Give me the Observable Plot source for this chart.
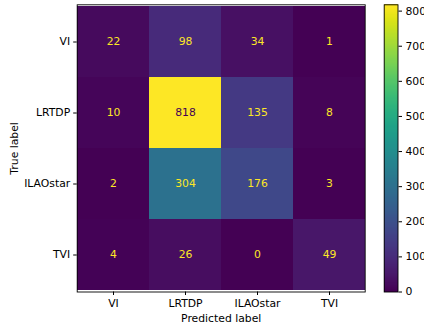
<!DOCTYPE html>
<html>
<head>
<meta charset="utf-8">
<script src="https://cdn.jsdelivr.net/npm/d3@7"></script>
<script src="https://cdn.jsdelivr.net/npm/@observablehq/plot@0.6"></script>
<style>
  html, body { margin: 0; padding: 0; background: #fff; }
  #wrap { position: relative; width: 424px; height: 326px; overflow: hidden; }
  #wrap > svg, #wrap > figure { position: absolute; left: 0; top: 0; margin: 0; }
</style>
</head>
<body>
<div id="wrap"></div>
<script>
const predictedLabels = ["VI", "LRTDP", "ILAOstar", "TVI"];
const trueLabels = ["VI", "LRTDP", "ILAOstar", "TVI"];
const rowVI = [22, 98, 34, 1];
const rowLRTDP = [10, 818, 135, 8];
const rowILAOstar = [2, 304, 176, 3];
const rowTVI = [4, 26, 0, 49];
const colorbarTicks = [0, 100, 200, 300, 400, 500, 600, 700, 800];

const rows = [rowVI, rowLRTDP, rowILAOstar, rowTVI];
const cells = [];
rows.forEach((r, i) => r.forEach((v, j) => cells.push({t: trueLabels[i], p: predictedLabels[j], v})));
const vmax = d3.max(cells, d => d.v);
const vmin = d3.min(cells, d => d.v);

const FS = 10.8;
const font = {fontFamily: "DejaVu Sans, sans-serif", fontSize: FS + "px", color: "#000", background: "transparent", overflow: "visible"};

const main = Plot.plot({
  width: 424, height: 326,
  marginLeft: 76.7, marginRight: 59.3, marginTop: 4.3, marginBottom: 34.5,
  style: font,
  x: {type: "band", domain: predictedLabels, padding: 0},
  y: {type: "band", domain: trueLabels, padding: 0},
  color: {type: "linear", scheme: "viridis", domain: [vmin, vmax]},
  marks: [
    Plot.cell(cells, {x: "p", y: "t", fill: "v", inset: 0, shapeRendering: "crispEdges"}),
    Plot.text(cells, {x: "p", y: "t", text: d => String(d.v), fill: d => d.v > (vmax + vmin) / 2 ? "#440154" : "#fde725", fontSize: FS}),
    Plot.frame({stroke: "#000", strokeWidth: 0.9}),
    Plot.axisX({tickSize: 3.5, tickPadding: 4, label: "Predicted label", labelAnchor: "center", labelArrow: "none", labelOffset: 30, stroke: "#000", fill: "#000"}),
    Plot.axisY({tickSize: 3.5, tickPadding: 3.5, label: "True label", labelAnchor: "center", labelArrow: "none", labelOffset: 67, stroke: "#000", fill: "#000"})
  ]
});

const cbar = Plot.plot({
  width: 424, height: 326,
  marginLeft: 383.7, marginRight: 26.5, marginTop: 4.3, marginBottom: 34.5,
  style: font,
  x: {domain: [0, 1], axis: null},
  y: {domain: [vmin, vmax], ticks: colorbarTicks, tickFormat: d3.format("d")},
  color: {type: "linear", scheme: "viridis", domain: [vmin, vmax]},
  marks: [
    Plot.rect(d3.range(vmin, vmax, 1), {x1: 0, x2: 1, y1: d => d, y2: d => Math.min(d + 1.6, vmax), fill: d => d + 0.5, shapeRendering: "crispEdges"}),
    Plot.frame({stroke: "#000", strokeWidth: 0.9}),
    Plot.axisY({anchor: "right", ticks: colorbarTicks, tickSize: 3.5, tickPadding: 4, label: null, stroke: "#000", fill: "#000"})
  ]
});

const wrap = document.getElementById("wrap");
wrap.appendChild(main);
wrap.appendChild(cbar);
</script>
</body>
</html>
